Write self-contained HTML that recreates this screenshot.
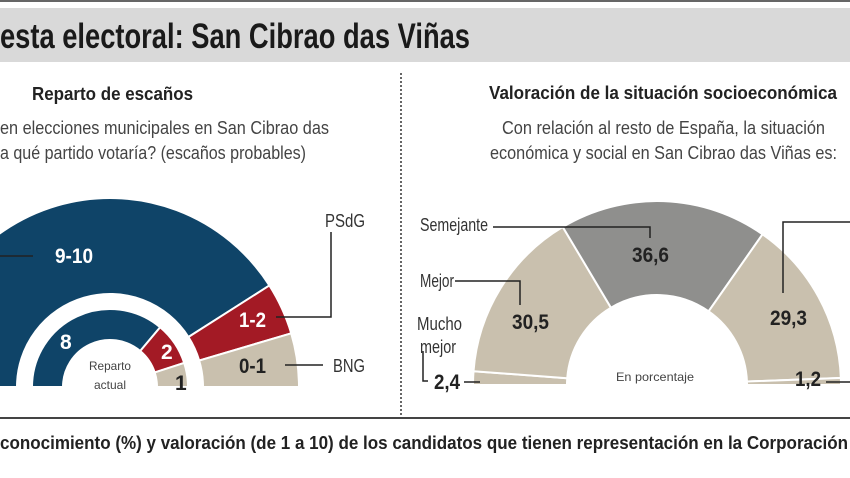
<!DOCTYPE html>
<html><head><meta charset="utf-8"><style>
html,body{margin:0;padding:0;background:#fff;}
svg{display:block;}
text{font-family:"Liberation Sans Narrow","Liberation Sans",sans-serif;}
</style></head><body>
<svg id="s" width="850" height="478" viewBox="0 0 850 478" xmlns="http://www.w3.org/2000/svg">
<rect x="0" y="0" width="850" height="2" fill="#666"/>
<rect x="0" y="8" width="850" height="54" fill="#d9d9d9"/>
<text x="0" y="48" font-size="35" font-weight="bold" fill="#1a1a1a" textLength="470" lengthAdjust="spacingAndGlyphs">esta electoral: San Cibrao das Viñas</text>
<line x1="401" y1="73" x2="401" y2="415" stroke="#333" stroke-width="1.5" stroke-dasharray="2,2"/>
<text x="32" y="100" font-size="18" font-weight="bold" fill="#222" textLength="161" lengthAdjust="spacingAndGlyphs">Reparto de escaños</text>
<text x="0" y="134" font-size="18" fill="#444" textLength="329" lengthAdjust="spacingAndGlyphs">en elecciones municipales en San Cibrao das</text>
<text x="0" y="159" font-size="18" fill="#444" textLength="306" lengthAdjust="spacingAndGlyphs">a qué partido votaría? (escaños probables)</text>
<text x="489" y="99" font-size="18" font-weight="bold" fill="#222" textLength="348" lengthAdjust="spacingAndGlyphs">Valoración de la situación socioeconómica</text>
<text x="502" y="134" font-size="18" fill="#444" textLength="323" lengthAdjust="spacingAndGlyphs">Con relación al resto de España, la situación</text>
<text x="490" y="159" font-size="18" fill="#444" textLength="347" lengthAdjust="spacingAndGlyphs">económica y social en San Cibrao das Viñas es:</text>
<g id="arcs"></g>
<g fill="none" stroke="#222" stroke-width="1.5">
<line x1="0" y1="256" x2="33" y2="256"/>
<polyline points="331,232 331,317 276,317"/>
<line x1="285" y1="365" x2="323" y2="365"/>
<polyline points="493,227 650,227 650,238"/>
<polyline points="455,281 520,281 520,305"/>
<polyline points="423,351 423,381 428,381"/>
<line x1="464" y1="382" x2="480" y2="382"/>
<polyline points="783,293 783,222 850,222"/>
<line x1="826" y1="382" x2="850" y2="382"/>
</g>
<g font-weight="bold" font-size="21">
<text x="55" y="263" fill="#fff" textLength="38" lengthAdjust="spacingAndGlyphs">9-10</text>
<text x="60" y="349" fill="#fff">8</text>
<text x="161" y="359" fill="#fff">2</text>
<text x="175" y="390" fill="#222">1</text>
<text x="239" y="327" fill="#fff" textLength="27" lengthAdjust="spacingAndGlyphs">1-2</text>
<text x="239" y="373" fill="#222" textLength="27" lengthAdjust="spacingAndGlyphs">0-1</text>
<text x="632" y="262" fill="#222" textLength="37" lengthAdjust="spacingAndGlyphs">36,6</text>
<text x="512" y="329" fill="#222" textLength="37" lengthAdjust="spacingAndGlyphs">30,5</text>
<text x="770" y="325" fill="#222" textLength="37" lengthAdjust="spacingAndGlyphs">29,3</text>
<text x="434" y="389" fill="#222" textLength="26" lengthAdjust="spacingAndGlyphs">2,4</text>
<text x="795" y="386" fill="#222" textLength="26" lengthAdjust="spacingAndGlyphs">1,2</text>
</g>
<g font-size="18" fill="#333">
<text x="325" y="227" textLength="40" lengthAdjust="spacingAndGlyphs">PSdG</text>
<text x="333" y="372" textLength="32" lengthAdjust="spacingAndGlyphs">BNG</text>
<text x="420" y="231" textLength="68" lengthAdjust="spacingAndGlyphs">Semejante</text>
<text x="420" y="287" textLength="34" lengthAdjust="spacingAndGlyphs">Mejor</text>
<text x="417" y="330" textLength="45" lengthAdjust="spacingAndGlyphs">Mucho</text>
<text x="420" y="353" textLength="36" lengthAdjust="spacingAndGlyphs">mejor</text>
</g>
<g font-size="12" fill="#444">
<text x="89" y="370" textLength="42" lengthAdjust="spacingAndGlyphs">Reparto</text>
<text x="94" y="389" textLength="32" lengthAdjust="spacingAndGlyphs">actual</text>
<text x="616" y="381" textLength="78" lengthAdjust="spacingAndGlyphs">En porcentaje</text>
</g>
<rect x="0" y="417" width="850" height="2" fill="#444"/>
<text x="0" y="449" font-size="18" font-weight="bold" fill="#222" textLength="848" lengthAdjust="spacingAndGlyphs">conocimiento (%) y valoración (de 1 a 10) de los candidatos que tienen representación en la Corporación</text>
</svg>
<script>
function arc(cx,cy,R,r,a1,a2,fill){
 var d=Math.PI/180;
 function p(rad,a){return (cx+rad*Math.cos(a*d)).toFixed(2)+","+(cy-rad*Math.sin(a*d)).toFixed(2);}
 var large=Math.abs(a1-a2)>180?1:0;
 var path="M"+p(R,a1)+" A"+R+","+R+" 0 "+large+" 1 "+p(R,a2)+" L"+p(r,a2)+" A"+r+","+r+" 0 "+large+" 0 "+p(r,a1)+"Z";
 return '<path d="'+path+'" fill="'+fill+'" stroke="#fff" stroke-width="2"/>';
}
var B="#0f4468",R="#a31a25",G="#c9c0ae",D="#8f8f8d",h="";
h+=arc(110,387,189,93,180,32.5,B);
h+=arc(110,387,189,93,32.5,16.5,R);
h+=arc(110,387,189,93,16.5,0,G);
h+=arc(110,387,78,47,180,50,B);
h+=arc(110,387,78,47,50,18,R);
h+=arc(110,387,78,47,18,0,G);
h+=arc(657,385,184,90,180,175.7,G);
h+=arc(657,385,184,90,175.7,120.8,G);
h+=arc(657,385,184,90,120.8,55,D);
h+=arc(657,385,184,90,55,2.2,G);
h+=arc(657,385,184,90,2.2,0,G);
document.getElementById("arcs").innerHTML=h;
</script>
</body></html>
